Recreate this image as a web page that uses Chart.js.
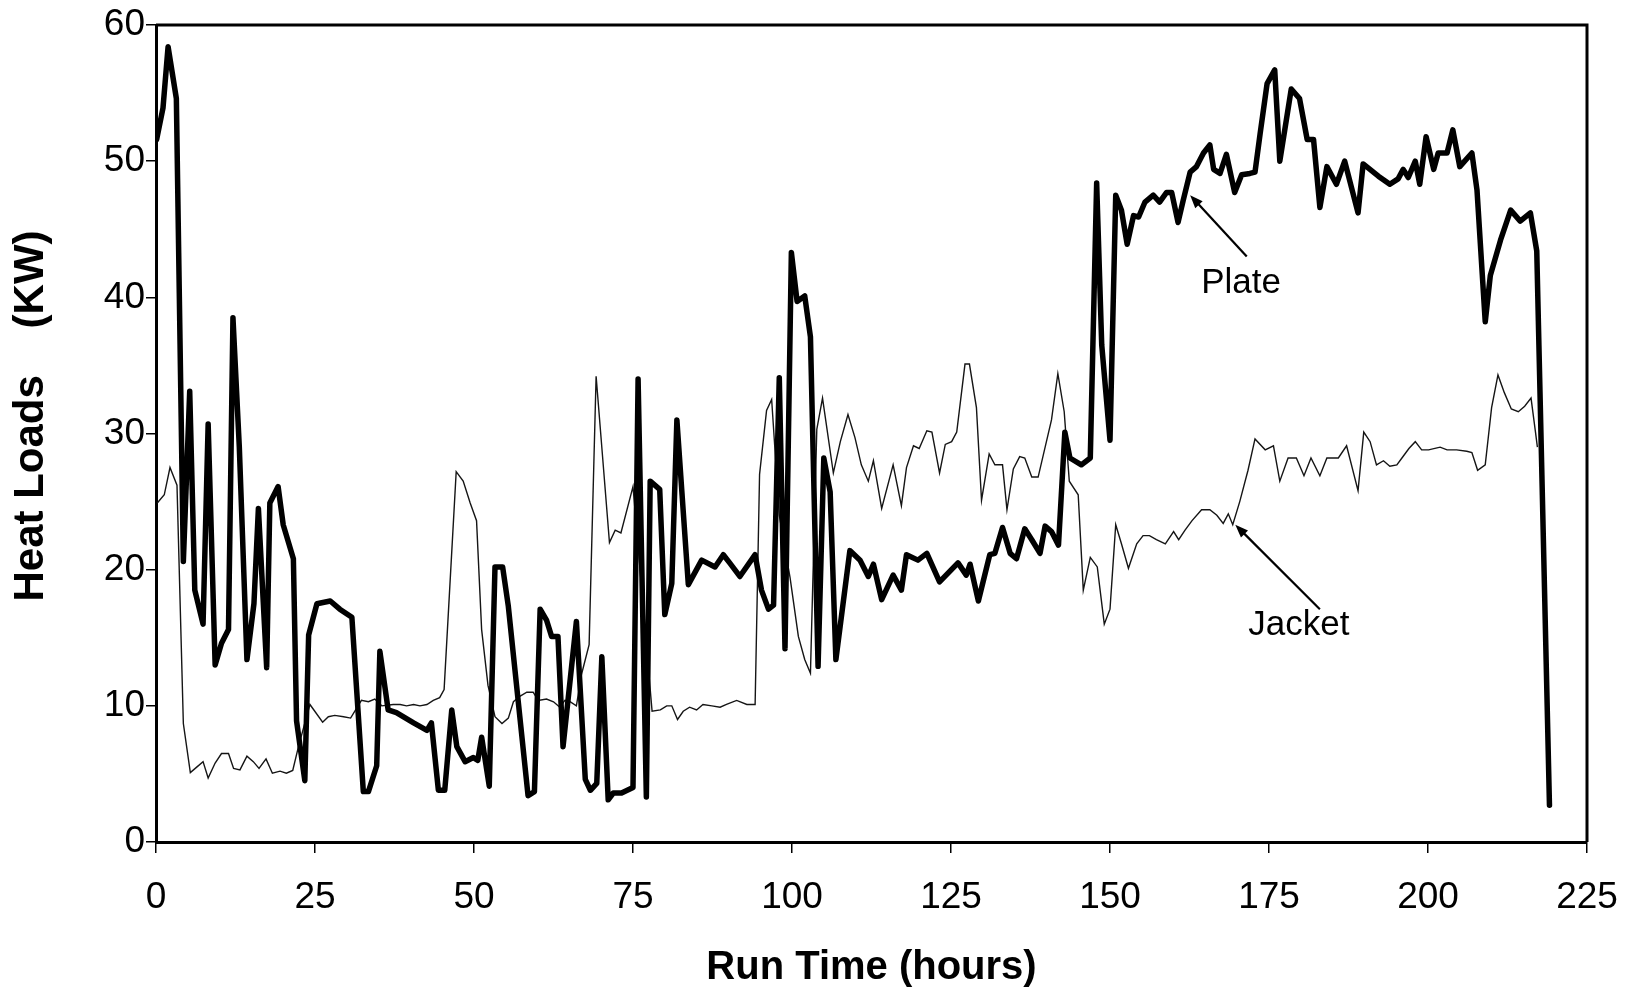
<!DOCTYPE html>
<html>
<head>
<meta charset="utf-8">
<title>Heat Loads vs Run Time</title>
<script src="https://cdn.jsdelivr.net/npm/chart.js@4.4.1/dist/chart.umd.min.js"></script>
<style>
  html, body { margin: 0; padding: 0; background: #fff; }
  #wrap { width: 1629px; height: 989px; }
</style>
</head>
<body>
<div id="wrap"><canvas id="heatChart" width="1629" height="989"></canvas></div>
<script>
// Plate (thick line) - hours / kW
const plateHours = [0.1, 1.1, 1.9, 3.2, 4.3, 5.3, 6.1, 7.4, 8.2, 9.3, 10.3, 11.4, 12.1, 13.1, 14.3, 15.4, 16.1, 17.4, 17.9, 19.2,
  20.0, 21.6, 22.1, 23.4, 24.0, 25.3, 27.4, 28.9, 30.8, 32.6, 33.4, 34.7, 35.2, 36.5, 37.8, 40.5, 42.6, 43.3, 44.4, 45.4,
  46.5, 47.3, 48.6, 49.9, 50.6, 51.2, 52.4, 53.3, 54.5, 55.4, 58.5, 59.5, 60.4, 61.4, 62.2, 63.2, 64.0, 66.1, 67.5, 68.3,
  69.3, 70.1, 71.1, 71.9, 73.2, 75.0, 75.8, 77.1, 77.7, 79.2, 80.0, 81.1, 81.9, 83.7, 85.8, 87.9, 89.2, 90.2, 91.8, 94.2,
  95.2, 96.3, 97.1, 98.0, 98.9, 99.9, 100.8, 102.0, 102.9, 104.1, 105.0, 106.0, 106.9, 109.1, 110.7, 112.0, 112.8, 114.1, 115.9, 117.2,
  118.0, 119.8, 121.2, 123.2, 126.1, 127.4, 128.0, 129.3, 131.1, 131.9, 133.1, 134.3, 135.3, 136.6, 137.7, 139.0, 139.8, 140.8, 141.9, 142.9,
  143.7, 145.5, 146.9, 147.9, 148.7, 150.0, 150.9, 151.8, 152.7, 153.7, 154.5, 155.5, 156.8, 157.8, 158.9, 159.7, 160.7, 161.5, 162.6, 163.6,
  164.7, 165.7, 166.3, 167.3, 168.3, 169.6, 170.7, 172.0, 172.8, 173.6, 174.7, 175.9, 176.7, 178.5, 179.8, 181.0, 182.0, 183.0, 184.1, 185.6,
  186.9, 189.0, 189.8, 192.2, 194.0, 195.3, 196.1, 196.9, 198.0, 198.7, 199.7, 200.9, 201.6, 203.0, 203.9, 205.0, 206.9, 207.7, 209.0, 209.8,
  211.4, 213.0, 214.5, 216.1, 217.1, 219.1];
const plateLoads = [51.6, 53.9, 58.4, 54.6, 20.6, 33.1, 18.5, 16.0, 30.7, 13.0, 14.6, 15.6, 38.5, 29.0, 13.4, 17.5, 24.5, 12.8, 24.9, 26.1,
  23.3, 20.8, 8.9, 4.5, 15.2, 17.5, 17.7, 17.1, 16.5, 3.7, 3.7, 5.6, 14.0, 9.7, 9.5, 8.75, 8.2, 8.75, 3.8, 3.8,
  9.7, 7.0, 5.9, 6.2, 6.0, 7.7, 4.1, 20.2, 20.2, 17.3, 3.4, 3.7, 17.1, 16.3, 15.1, 15.1, 7.0, 16.2, 4.6, 3.8,
  4.3, 13.6, 3.1, 3.6, 3.6, 4.0, 34.0, 3.3, 26.5, 25.9, 16.7, 19.0, 31.0, 18.9, 20.7, 20.2, 21.1, 20.5, 19.5, 21.1,
  18.5, 17.1, 17.4, 34.1, 14.2, 43.3, 39.7, 40.1, 37.1, 12.9, 28.2, 25.7, 13.4, 21.4, 20.7, 19.5, 20.4, 17.8, 19.6, 18.5,
  21.1, 20.7, 21.2, 19.1, 20.5, 19.6, 20.4, 17.7, 21.1, 21.2, 23.1, 21.2, 20.8, 23.0, 22.2, 21.2, 23.2, 22.8, 21.8, 30.1,
  28.2, 27.7, 28.2, 48.4, 36.5, 29.5, 47.5, 46.4, 43.9, 46.0, 45.9, 47.0, 47.5, 47.0, 47.7, 47.7, 45.5, 47.1, 49.2, 49.6,
  50.6, 51.2, 49.4, 49.1, 50.5, 47.7, 49.0, 49.1, 49.2, 52.0, 55.7, 56.7, 50.0, 55.3, 54.6, 51.6, 51.6, 46.6, 49.6, 48.3,
  50.0, 46.2, 49.8, 48.9, 48.3, 48.7, 49.4, 48.8, 50.0, 48.3, 51.8, 49.4, 50.6, 50.6, 52.3, 49.6, 50.6, 47.9, 38.2, 41.6,
  44.2, 46.4, 45.6, 46.2, 43.4, 2.7];

// Jacket (thin line) - hours / kW
const jacketHours = [0.2, 1.3, 2.2, 3.3, 4.3, 5.4, 6.4, 7.4, 8.2, 9.3, 10.3, 11.4, 12.2, 13.2, 14.3, 15.3, 16.2, 17.3, 18.3, 19.5,
  20.5, 21.5, 22.4, 24.2, 26.2, 27.1, 28.1, 29.5, 30.6, 32.3, 33.4, 34.4, 35.5, 37.3, 38.4, 39.4, 40.5, 41.5, 42.6, 43.6,
  44.6, 45.3, 47.2, 48.3, 49.4, 50.4, 51.2, 52.2, 53.3, 54.4, 55.4, 56.2, 57.2, 58.3, 59.3, 60.1, 61.4, 62.5, 63.5, 64.3,
  65.1, 66.1, 66.9, 68.1, 69.2, 71.3, 72.2, 73.1, 75.0, 78.0, 79.3, 80.3, 81.1, 82.0, 82.9, 83.9, 85.0, 86.0, 87.4, 88.7,
  89.7, 91.3, 92.9, 94.2, 94.9, 96.0, 96.8, 98.0, 99.7, 101.0, 102.0, 102.9, 103.9, 104.8, 106.5, 107.6, 108.8, 109.9, 110.9, 112.0,
  112.8, 114.1, 115.9, 117.2, 118.0, 119.1, 120.0, 121.2, 122.0, 123.2, 124.1, 125.1, 125.9, 127.2, 127.9, 129.0, 129.8, 131.0, 131.9, 133.1,
  133.8, 134.8, 135.8, 136.6, 137.7, 138.7, 140.8, 141.8, 142.8, 143.6, 145.0, 145.8, 146.9, 148.0, 149.1, 150.0, 150.9, 151.8, 152.9, 154.2,
  155.2, 156.2, 157.3, 158.7, 160.0, 160.8, 161.8, 162.9, 164.4, 165.7, 166.8, 167.8, 168.6, 169.3, 170.4, 171.7, 172.8, 174.4, 175.7, 176.7,
  178.0, 179.3, 180.5, 181.6, 183.0, 184.1, 185.9, 187.2, 189.0, 189.9, 190.9, 191.9, 193.0, 194.0, 195.1, 195.9, 197.0, 198.0, 199.0, 200.1,
  201.9, 203.0, 204.5, 206.1, 206.9, 207.8, 209.0, 210.0, 211.0, 212.0, 213.1, 214.2, 215.2, 216.2, 216.9, 217.2];
const jacketLoads = [24.9, 25.5, 27.5, 26.2, 8.7, 5.1, 5.5, 5.9, 4.7, 5.8, 6.5, 6.5, 5.4, 5.3, 6.3, 5.9, 5.4, 6.1, 5.05, 5.2,
  5.05, 5.25, 7.0, 10.1, 8.8, 9.2, 9.3, 9.2, 9.1, 10.4, 10.3, 10.5, 10.0, 10.1, 10.1, 10.0, 10.1, 10.0, 10.1, 10.4,
  10.6, 11.2, 27.2, 26.5, 24.9, 23.6, 15.6, 11.5, 9.2, 8.7, 9.1, 10.3, 10.7, 11.0, 11.0, 10.4, 10.5, 10.3, 9.9, 10.4,
  10.3, 10.0, 12.3, 14.5, 34.2, 22.0, 22.9, 22.7, 26.1, 9.6, 9.7, 10.0, 10.0, 9.0, 9.6, 9.9, 9.7, 10.1, 10.0, 9.9,
  10.1, 10.4, 10.1, 10.1, 27.0, 31.7, 32.5, 24.0, 19.4, 15.1, 13.4, 12.4, 30.3, 32.6, 27.1, 29.4, 31.4, 29.7, 27.7, 26.5,
  28.0, 24.5, 27.7, 24.7, 27.5, 29.1, 28.9, 30.2, 30.1, 27.1, 29.2, 29.4, 30.1, 35.1, 35.1, 31.9, 25.1, 28.5, 27.7, 27.7,
  24.4, 27.4, 28.3, 28.2, 26.8, 26.8, 31.0, 34.4, 31.6, 26.5, 25.5, 18.5, 20.9, 20.2, 16.0, 17.1, 23.3, 21.9, 20.1, 21.9,
  22.5, 22.5, 22.2, 21.9, 22.8, 22.2, 22.9, 23.6, 24.4, 24.4, 24.0, 23.4, 24.1, 23.3, 25.0, 27.3, 29.6, 28.8, 29.1, 26.5,
  28.2, 28.2, 26.9, 28.2, 26.9, 28.2, 28.2, 29.1, 25.8, 30.1, 29.4, 27.7, 28.0, 27.6, 27.7, 28.2, 28.9, 29.4, 28.8, 28.8,
  29.0, 28.8, 28.8, 28.7, 28.6, 27.3, 27.7, 31.9, 34.3, 33.0, 31.8, 31.6, 32.0, 32.6, 30.1, 29.0];

const xTickValues = [0, 25, 50, 75, 100, 125, 150, 175, 200, 225];
const yTickValues = [0, 10, 20, 30, 40, 50, 60];

// labels with arrows: [text, label hour, label kW, arrow tail hour, tail kW, arrow tip hour, tip kW]
const plateNote = ['Plate', 170.6, 41.0, 171.5, 43.0, 162.6, 47.5];
const jacketNote = ['Jacket', 179.7, 15.9, 183.0, 17.1, 169.7, 23.3];

const FONT = "'Liberation Sans', Arial, Helvetica, sans-serif";

function toPoints(xs, ys) {
    return xs.map((x, i) => ({ x: x, y: ys[i] }));
}

// frame (top + right) and the two labelled arrows
const framePlugin = {
    id: 'frameAndNotes',
    afterDatasetsDraw(chart) {
        const { ctx, chartArea: a, scales } = chart;
        ctx.save();
        ctx.strokeStyle = '#000';
        ctx.lineWidth = 3;
        ctx.beginPath();
        ctx.moveTo(a.left, a.top);
        ctx.lineTo(a.right, a.top);
        ctx.lineTo(a.right, a.bottom);
        ctx.stroke();

        [plateNote, jacketNote].forEach(n => {
            const tx = scales.x.getPixelForValue(n[3]), ty = scales.y.getPixelForValue(n[4]);
            const hx = scales.x.getPixelForValue(n[5]), hy = scales.y.getPixelForValue(n[6]);
            const ang = Math.atan2(hy - ty, hx - tx);
            ctx.lineWidth = 2.2;
            ctx.beginPath();
            ctx.moveTo(tx, ty);
            ctx.lineTo(hx - 8 * Math.cos(ang), hy - 8 * Math.sin(ang));
            ctx.stroke();
            ctx.fillStyle = '#000';
            ctx.beginPath();
            ctx.moveTo(hx, hy);
            ctx.lineTo(hx - 13 * Math.cos(ang) + 5 * Math.sin(ang), hy - 13 * Math.sin(ang) - 5 * Math.cos(ang));
            ctx.lineTo(hx - 13 * Math.cos(ang) - 5 * Math.sin(ang), hy - 13 * Math.sin(ang) + 5 * Math.cos(ang));
            ctx.closePath();
            ctx.fill();

            ctx.font = '35px ' + FONT;
            ctx.textAlign = 'center';
            ctx.textBaseline = 'middle';
            ctx.fillText(n[0], scales.x.getPixelForValue(n[1]), scales.y.getPixelForValue(n[2]));
        });
        ctx.restore();
    }
};

new Chart(document.getElementById('heatChart'), {
    type: 'line',
    data: {
        datasets: [
            {
                label: 'Plate',
                data: toPoints(plateHours, plateLoads),
                borderColor: '#000',
                borderWidth: 5.5,
                borderJoinStyle: 'round',
                borderCapStyle: 'round',
                pointRadius: 0,
                tension: 0,
                fill: false
            },
            {
                label: 'Jacket',
                data: toPoints(jacketHours, jacketLoads),
                borderColor: '#151515',
                borderWidth: 1.4,
                pointRadius: 0,
                tension: 0,
                fill: false
            }
        ]
    },
    options: {
        responsive: false,
        animation: false,
        devicePixelRatio: 1,
        layout: { padding: { top: 25, right: 42, left: 0, bottom: 0 } },
        plugins: {
            legend: { display: false },
            tooltip: { enabled: false }
        },
        scales: {
            x: {
                type: 'linear',
                min: 0,
                max: 225,
                afterBuildTicks: s => { s.ticks = xTickValues.map(v => ({ value: v })); },
                afterFit: s => { s.height = 147; s.paddingLeft = 0; s.paddingRight = 0; },
                grid: { drawOnChartArea: false, drawTicks: true, tickLength: 11, color: '#000', lineWidth: 1.5 },
                border: { display: true, color: '#000', width: 3 },
                ticks: {
                    color: '#000',
                    padding: 26,
                    maxRotation: 0,
                    font: { family: FONT, size: 37, lineHeight: 1 }
                },
                title: {
                    display: true,
                    text: 'Run Time (hours)',
                    color: '#000',
                    padding: { top: 0, bottom: 1.5 },
                    font: { family: FONT, size: 40, weight: 'bold', lineHeight: 1 }
                }
            },
            y: {
                min: 0,
                max: 60,
                afterBuildTicks: s => { s.ticks = yTickValues.map(v => ({ value: v })); },
                afterFit: s => { s.width = 156; s.paddingTop = 0; s.paddingBottom = 0; },
                grid: { drawOnChartArea: false, drawTicks: true, tickLength: 10, color: '#000', lineWidth: 1.5 },
                border: { display: true, color: '#000', width: 3 },
                ticks: {
                    color: '#000',
                    padding: 1,
                    font: { family: FONT, size: 37, lineHeight: 1 }
                },
                title: {
                    display: true,
                    // leading spaces lift the title a little above the axis centre, as in the original
                    text: '   Heat Loads    (KW)',
                    color: '#000',
                    padding: { top: 10, bottom: 0 },
                    font: { family: FONT, size: 42, weight: 'bold', lineHeight: 1 }
                }
            }
        }
    },
    plugins: [framePlugin]
});
</script>
</body>
</html>
